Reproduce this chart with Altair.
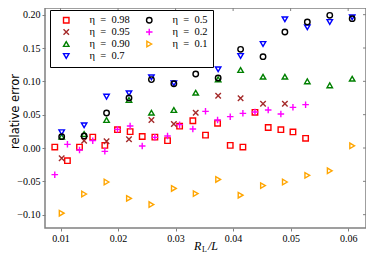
import altair as alt
import pandas as pd

# x positions (R_L / L)
x_a = [0.0090, 0.0112, 0.0133, 0.0156, 0.0177, 0.0199, 0.0221, 0.0242, 0.0264, 0.0286, 0.0307,
       0.0330, 0.0352, 0.0373, 0.0395, 0.0417, 0.0438, 0.0461, 0.0483, 0.0504, 0.0526]
x_b = [0.0102, 0.0141, 0.0180, 0.0219, 0.0258, 0.0297, 0.0335, 0.0374, 0.0413, 0.0452,
       0.0490, 0.0529, 0.0568, 0.0607]

eta098 = [0.0014, -0.019, 0.0014, 0.0163, 0.0039, 0.0275, 0.0246, 0.0173, 0.0163, 0.0111, 0.0328,
          0.0409, 0.0193, 0.0371, 0.0039, 0.0014, 0.0535, 0.0308, 0.0275, 0.0241, 0.0145]
eta095 = [-0.0155, 0.011, 0.010, 0.013, 0.042, 0.036, 0.053, 0.0785, 0.0747, 0.0665, 0.0665]
eta090 = [0.017, 0.021, 0.042, 0.072, 0.053, 0.057, 0.083, 0.103, 0.117, 0.107, 0.107, 0.100, 0.094, 0.104]
eta07 = [0.0236, 0.034, 0.077, 0.082, 0.106, 0.097, 0.135, 0.118, 0.138, 0.156, 0.193, 0.181, 0.189, 0.196]
eta05 = [0.017, 0.018, 0.0525, 0.075, 0.1026, 0.0964, 0.111, 0.105, 0.148, 0.137, 0.174, 0.189, 0.199, 0.194]
eta02 = [-0.040, 0.0055, -0.003, 0.011, -0.005, 0.028, 0.033, 0.003, 0.016, 0.018, 0.035,
         0.0285, 0.055, 0.042, 0.047, 0.052, 0.054, 0.057, 0.051, 0.061, 0.065]
eta01 = [-0.0978, -0.069, -0.051, -0.0756, -0.0848, -0.0607, -0.0684, -0.0472, -0.0708, -0.0564,
         -0.051, -0.041, -0.0342, 0.0033]

labels = ["η\u2002=\u20020.98", "η\u2002=\u20020.95", "η\u2002=\u20020.90", "η\u2002=\u20020.7",
          "η\u2002=\u20020.5", "η\u2002=\u20020.2", "η\u2002=\u20020.1"]
colors = ["#ff0000", "#a52a2a", "#008000", "#0000ff", "#000000", "#ff00ff", "#ffa500"]
X_PATH = "M-1,-1L1,1M-1,1L1,-1"
PLUS_PATH = "M-1.2,0L1.2,0M0,-1.2L0,1.2"
shapes = ["square", X_PATH, "triangle-up", "triangle-down", "circle", PLUS_PATH, "triangle-right"]

x_ticks = [0.01, 0.02, 0.03, 0.04, 0.05, 0.06]
y_ticks = [-0.10, -0.05, 0.00, 0.05, 0.10, 0.15, 0.20]

series = [(labels[0], x_a, eta098), (labels[1], x_b, eta095), (labels[2], x_b, eta090),
          (labels[3], x_b, eta07), (labels[4], x_b, eta05), (labels[5], x_a, eta02),
          (labels[6], x_b, eta01)]
rows = []
for order, (lab, xs, ys) in enumerate(series):
    for xv, yv in zip(xs, ys):
        rows.append({"eta": lab, "x": xv, "y": yv, "o": order})
df = pd.DataFrame(rows)

W, H = 321, 220
x_scale = alt.Scale(domain=[0.0073, 0.0631], nice=False, zero=False)
y_scale = alt.Scale(domain=[-0.12, 0.21], nice=False, zero=False)
x_axis = alt.Axis(values=x_ticks, format=".2f", title=None)
y_axis = alt.Axis(values=y_ticks, format=".2f", title="relative error",
                  titleFont="DejaVu Sans", titleFontSize=11.5, titleFontWeight="normal",
                  titleX=-25, titleY=103, titleColor="#000")

points = alt.Chart(df).mark_point(filled=False, size=30, strokeWidth=1.4, opacity=1).encode(
    x=alt.X("x:Q", scale=x_scale, axis=x_axis),
    y=alt.Y("y:Q", scale=y_scale, axis=y_axis),
    color=alt.Color("eta:N", scale=alt.Scale(domain=labels, range=colors),
                    legend=alt.Legend(title=None, orient="none", legendX=5, legendY=2,
                                      columns=2, columnPadding=8, rowPadding=1, clipHeight=10,
                                      padding=5, symbolOffset=6, labelOffset=18,
                                      strokeColor="#000", fillColor="#fff",
                                      labelFont="Liberation Serif", labelFontSize=10.5,
                                      labelColor="#000", symbolSize=30,
                                      symbolStrokeWidth=1.4, cornerRadius=0)),
    shape=alt.Shape("eta:N", scale=alt.Scale(domain=labels, range=shapes)),
    order=alt.Order("o:Q"),
)

top_ticks = alt.Chart(pd.DataFrame({"x": x_ticks})).mark_rule(color="#808080", strokeWidth=1).encode(
    x=alt.X("x:Q", scale=x_scale, axis=x_axis), y=alt.value(0), y2=alt.value(3))
right_ticks = alt.Chart(pd.DataFrame({"y": y_ticks})).mark_rule(color="#808080", strokeWidth=1).encode(
    y=alt.Y("y:Q", scale=y_scale, axis=y_axis), x=alt.value(W - 3), x2=alt.value(W))

title_r = alt.Chart(pd.DataFrame({"t": ["R"]})).mark_text(
    font="Liberation Serif", fontStyle="italic", fontSize=12, align="left", baseline="alphabetic",
    color="#000").encode(text="t:N", x=alt.value(149), y=alt.value(242))
title_sub = alt.Chart(pd.DataFrame({"t": ["L"]})).mark_text(
    font="Liberation Serif", fontSize=8, align="left", baseline="alphabetic",
    color="#000").encode(text="t:N", x=alt.value(157), y=alt.value(244))
title_l = alt.Chart(pd.DataFrame({"t": ["/L"]})).mark_text(
    font="Liberation Serif", fontStyle="italic", fontSize=12, align="left", baseline="alphabetic",
    color="#000").encode(text="t:N", x=alt.value(163), y=alt.value(242))

chart = alt.layer(points, top_ticks, right_ticks, title_r, title_sub, title_l).properties(
    width=W, height=H,
    autosize=alt.AutoSizeParams(type="none"),
    padding={"left": 37, "top": 0, "right": 0, "bottom": 25},
).configure_view(
    stroke="#808080", strokeWidth=1.5
).configure_axis(
    domain=False, grid=False, ticks=True, tickSize=3, tickColor="#808080", tickWidth=1,
    labelFont="Liberation Serif", labelFontSize=10, labelColor="#000", labelPadding=2,
)

chart.save("out.html", embed_options={"renderer": "svg", "actions": False})
